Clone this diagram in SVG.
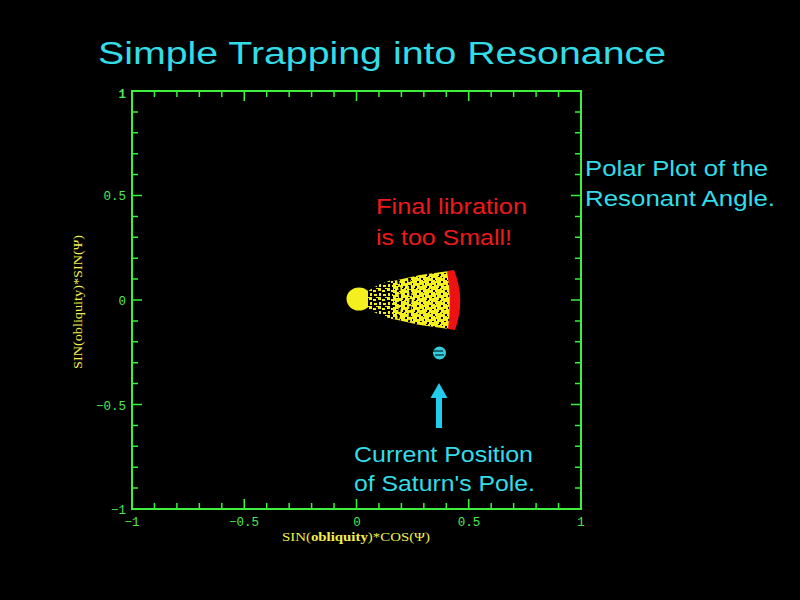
<svg xmlns="http://www.w3.org/2000/svg" width="800" height="600" viewBox="0 0 800 600">
  <style>
    .ax { stroke: #3df03d; fill: none; stroke-width: 2; }
    .tk { stroke: #3df03d; fill: none; stroke-width: 1.5; }
    .tl { fill: #4fe84f; font-family: "Liberation Mono", "DejaVu Sans Mono", monospace; font-size: 12.5px; }
    .al { fill: #f0f04a; font-family: "Liberation Serif", "DejaVu Serif", serif; font-size: 12px; }
    .cy { fill: #33dde8; font-family: "Liberation Sans", Arial, sans-serif; }
    .rd { fill: #ee1a1a; font-family: "Liberation Sans", Arial, sans-serif; font-size: 22px; }
  </style>
  <defs>
    <pattern id="speck" width="12" height="12" patternUnits="userSpaceOnUse">
      <rect x="1" y="2" width="2" height="2" fill="#000"/>
      <rect x="6" y="0" width="2" height="1" fill="#000"/>
      <rect x="9" y="5" width="2" height="2" fill="#000"/>
      <rect x="4" y="7" width="1" height="2" fill="#000"/>
      <rect x="0" y="9" width="2" height="1" fill="#000"/>
      <rect x="7" y="10" width="2" height="2" fill="#000"/>
      <rect x="10" y="1" width="1" height="1" fill="#000"/>
      <rect x="3" y="4" width="1" height="1" fill="#000"/>
    </pattern>
    <pattern id="sparse" width="9" height="9" patternUnits="userSpaceOnUse">
      <rect x="0" y="0" width="9" height="9" fill="#000"/>
      <rect x="0" y="0" width="3" height="3" fill="#f4f020"/>
      <rect x="4" y="2" width="3" height="2" fill="#f4f020"/>
      <rect x="1" y="5" width="2" height="3" fill="#f4f020"/>
      <rect x="5" y="6" width="3" height="2" fill="#f4f020"/>
      <rect x="7" y="0" width="2" height="1" fill="#f4f020"/>
    </pattern>
    <clipPath id="fanclip">
      <path d="M393,281 L420,275 L449,271 Q460,300 449,329 L420,325 L393,319 Z"/>
    </clipPath>
  </defs>
  <rect x="0" y="0" width="800" height="600" fill="#000"/>

  <g id="title">
    <text class="cy" x="98" y="64" font-size="31" textLength="568" lengthAdjust="spacingAndGlyphs">Simple Trapping into Resonance</text>
  </g>

  <g id="plot-frame">
    <rect class="ax" x="132" y="91" width="449" height="418"/>
    <path class="tk" d="M154.45,509v-6M176.9,509v-6M199.35,509v-6M221.8,509v-6M244.25,509v-10M266.7,509v-6M289.15,509v-6M311.6,509v-6M334.05,509v-6M356.5,509v-10M378.95,509v-6M401.4,509v-6M423.85,509v-6M446.3,509v-6M468.75,509v-10M491.2,509v-6M513.65,509v-6M536.1,509v-6M558.55,509v-6"/>
    <path class="tk" d="M154.45,91v6M176.9,91v6M199.35,91v6M221.8,91v6M244.25,91v10M266.7,91v6M289.15,91v6M311.6,91v6M334.05,91v6M356.5,91v10M378.95,91v6M401.4,91v6M423.85,91v6M446.3,91v6M468.75,91v10M491.2,91v6M513.65,91v6M536.1,91v6M558.55,91v6"/>
    <path class="tk" d="M132,111.9h6M132,132.8h6M132,153.7h6M132,174.6h6M132,195.5h10M132,216.4h6M132,237.3h6M132,258.2h6M132,279.1h6M132,300h10M132,320.9h6M132,341.8h6M132,362.7h6M132,383.6h6M132,404.5h10M132,425.4h6M132,446.3h6M132,467.2h6M132,488.1h6"/>
    <path class="tk" d="M581,111.9h-6M581,132.8h-6M581,153.7h-6M581,174.6h-6M581,195.5h-10M581,216.4h-6M581,237.3h-6M581,258.2h-6M581,279.1h-6M581,300h-10M581,320.9h-6M581,341.8h-6M581,362.7h-6M581,383.6h-6M581,404.5h-10M581,425.4h-6M581,446.3h-6M581,467.2h-6M581,488.1h-6"/>
  </g>

  <g id="tick-labels">
    <text class="tl" x="126" y="98" text-anchor="end" font-size="16" font-weight="bold">1</text>
    <text class="tl" x="126" y="200" text-anchor="end">0.5</text>
    <text class="tl" x="126" y="305" text-anchor="end">0</text>
    <text class="tl" x="126" y="410" text-anchor="end">−0.5</text>
    <text class="tl" x="126" y="514" text-anchor="end">−1</text>
    <text class="tl" x="132" y="526" text-anchor="middle">−1</text>
    <text class="tl" x="244" y="526" text-anchor="middle">−0.5</text>
    <text class="tl" x="357" y="526" text-anchor="middle">0</text>
    <text class="tl" x="469" y="526" text-anchor="middle">0.5</text>
    <text class="tl" x="581" y="526" text-anchor="middle">1</text>
  </g>

  <g id="axis-labels">
    <text class="al" x="356" y="541" text-anchor="middle" textLength="148" lengthAdjust="spacingAndGlyphs">SIN(<tspan font-weight="bold">obliquity</tspan>)*COS(Ψ)</text>
    <text class="al" transform="translate(82,302) rotate(-90)" text-anchor="middle" textLength="134" lengthAdjust="spacingAndGlyphs">SIN(obliquity)*SIN(Ψ)</text>
  </g>

  <g id="data">
    <ellipse cx="359" cy="299" rx="12.5" ry="11.5" fill="#f4f020"/>
    <path d="M368,291 L378,285 L394,279 L394,320 L378,314 L368,309 Z" fill="url(#sparse)"/>
    <g clip-path="url(#fanclip)">
      <rect x="390" y="268" width="75" height="64" fill="#f4f020"/>
      <rect x="390" y="268" width="75" height="64" fill="url(#speck)"/>
      <path d="M398,280 Q402,300 398,320 M409,278 Q412,300 409,322" stroke="#000" stroke-width="2" stroke-dasharray="4 3" fill="none"/>
    </g>
    <path d="M447,271 L454,270 Q466,300 455,330 L448,329 Q452,300 447,271 Z" fill="#ee1111"/>
    <circle cx="439.5" cy="353" r="6.5" fill="#33ccdd"/>
    <path d="M433,351 h10 M435,355 h9" stroke="#000" stroke-width="1"/>
  </g>

  <g id="annotations">
    <text class="rd" x="376" y="214" textLength="151" lengthAdjust="spacingAndGlyphs">Final libration</text>
    <text class="rd" x="376" y="245" textLength="136" lengthAdjust="spacingAndGlyphs">is too Small!</text>
    <text class="cy" x="585" y="176" font-size="22" textLength="183" lengthAdjust="spacingAndGlyphs">Polar Plot of the</text>
    <text class="cy" x="585" y="206" font-size="22" textLength="190" lengthAdjust="spacingAndGlyphs">Resonant Angle.</text>
    <text class="cy" x="354" y="462" font-size="22" textLength="179" lengthAdjust="spacingAndGlyphs">Current Position</text>
    <text class="cy" x="354" y="491" font-size="22" textLength="181" lengthAdjust="spacingAndGlyphs">of Saturn's Pole.</text>
  </g>

  <g id="connectors">
    <path d="M439,383 L447.5,398 L442,398 L442,428 L436,428 L436,398 L430.5,398 Z" fill="#22ccee"/>
  </g>
</svg>
